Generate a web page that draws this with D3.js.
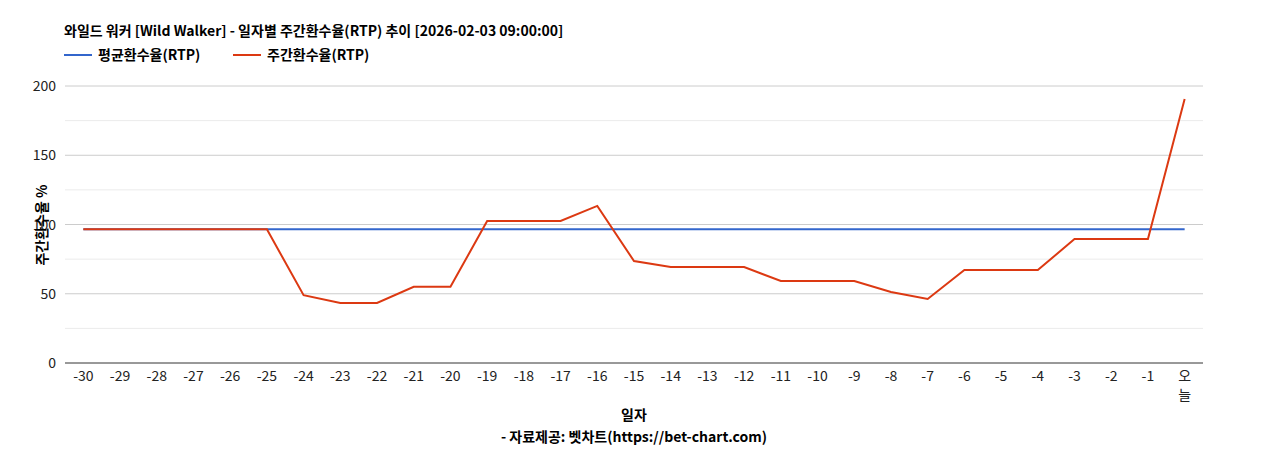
<!DOCTYPE html><html><head><meta charset="utf-8"><script src="https://cdn.jsdelivr.net/npm/d3@7"></script>
<style>body{margin:0;background:#fff;font-family:"Noto Sans CJK KR","Noto Sans",sans-serif}</style></head><body><svg id="c" width="1268" height="450"></svg>
<script>
const categories=["-30","-29","-28","-27","-26","-25","-24","-23","-22","-21","-20","-19","-18","-17","-16","-15","-14","-13","-12","-11","-10","-9","-8","-7","-6","-5","-4","-3","-2","-1","오늘"];
const avgRtp=new Array(31).fill(96.5);
const weeklyRtp=[96.5,96.5,96.5,96.5,96.5,96.5,49,43.3,43.3,55,55,102.5,102.5,102.5,113.4,73.6,69.3,69.3,69.3,59.2,59.2,59.2,51.3,46.2,67.1,67.1,67.1,89.5,89.5,89.5,190.6];
const yTicks=[0,50,100,150,200];
const svg=d3.select("#c");
const L=65,R=1203,T=86,B=363;
const x=d3.scaleBand().domain(categories).range([L,R]);
const y=d3.scaleLinear().domain([0,200]).range([B,T]);
const g=svg.append("g");
d3.range(25,200,50).forEach(v=>g.append("line").attr("x1",L).attr("x2",R).attr("y1",y(v)).attr("y2",y(v)).attr("stroke","#ebebeb"));
yTicks.forEach(v=>{g.append("line").attr("x1",L).attr("x2",R).attr("y1",y(v)).attr("y2",y(v)).attr("stroke",v?"#cccccc":"#333");
g.append("text").attr("x",L-9).attr("y",y(v)+5).attr("text-anchor","end").attr("font-size",14).attr("fill","#222").text(v);});
categories.forEach(c=>{const t=g.append("text").attr("x",x(c)+x.bandwidth()/2).attr("text-anchor","middle").attr("font-size",14).attr("fill","#222");
if(c==="오늘"){t.append("tspan").attr("x",x(c)+x.bandwidth()/2).attr("y",381).text("오");t.append("tspan").attr("x",x(c)+x.bandwidth()/2).attr("y",400).text("늘");}
else t.attr("y",381).text(c);});
const line=d3.line().x((d,i)=>x(categories[i])+x.bandwidth()/2).y(d=>y(d));
g.append("path").attr("d",line(avgRtp)).attr("fill","none").attr("stroke","#3366cc").attr("stroke-width",2);
g.append("path").attr("d",line(weeklyRtp)).attr("fill","none").attr("stroke","#dc3912").attr("stroke-width",2);
svg.append("text").attr("x",64).attr("y",36).attr("font-size",14).attr("font-weight","bold").text("와일드 워커 [Wild Walker] - 일자별 주간환수율(RTP) 추이 [2026-02-03 09:00:00]");
[["평균환수율(RTP)","#3366cc",64],["주간환수율(RTP)","#dc3912",233]].forEach(([t,c,xx])=>{
svg.append("line").attr("x1",xx).attr("x2",xx+28).attr("y1",55).attr("y2",55).attr("stroke",c).attr("stroke-width",2);
svg.append("text").attr("x",xx+34).attr("y",60).attr("font-size",14).attr("font-weight","bold").text(t);});
svg.append("text").attr("transform","translate(47,225) rotate(-90)").attr("text-anchor","middle").attr("font-size",14).attr("font-weight","bold").text("주간환수율 %");
svg.append("text").attr("x",634).attr("y",420).attr("text-anchor","middle").attr("font-size",14).attr("font-weight","bold").text("일자");
svg.append("text").attr("x",634).attr("y",442).attr("text-anchor","middle").attr("font-size",14).attr("font-weight","bold").text("- 자료제공: 벳차트(https://bet-chart.com)");
</script></body></html>
